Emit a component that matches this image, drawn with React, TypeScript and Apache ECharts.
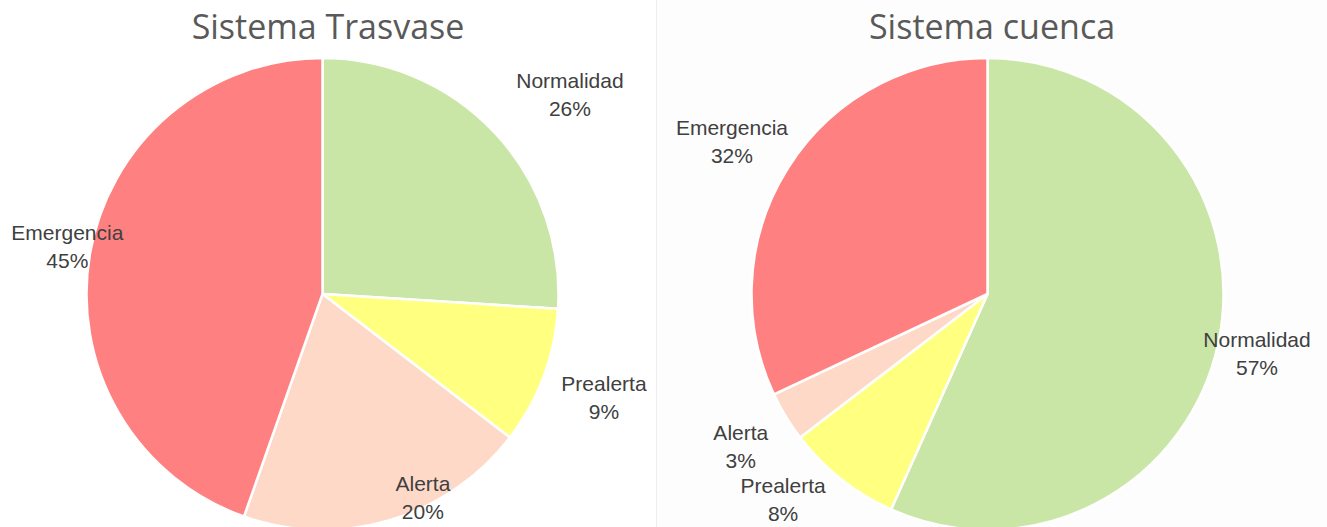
import React, { useEffect, useRef } from "react";
import * as echarts from "echarts";

const categories = ["Normalidad", "Prealerta", "Alerta", "Emergencia"];
const trasvaseValues = [26.0, 9.4, 20.0, 44.6];
const cuencaValues = [56.7, 7.9, 3.4, 32.0];
const titles = ["Sistema Trasvase", "Sistema cuenca"];

const colors = ["#C9E6A7", "#FFFF80", "#FFD9C8", "#FF8080"];

// label placement style: radial factor and angular shift (degrees) per slice
const labelFactor = [
  [1.348, 1.27, 0.96, 1.1],
  [1.17, 1.227, 1.23, 1.26],
];
const labelShift = [
  [4.26, -0.42, -9.74, 0.88],
  [0.49, 6.56, -0.48, -1.65],
];

const centers = [
  [322.5, 294],
  [987.5, 294],
];
const titleX = [323, 987];
const RADIUS = 236;

export default function App() {
  const ref = useRef<HTMLDivElement>(null);
  useEffect(() => {
    if (!ref.current) return;
    const chart = echarts.init(ref.current, null, { renderer: "svg" });
    const seriesValues = [trasvaseValues, cuencaValues];

    const labelLayout = (params: any) => {
      const s = params.seriesIndex;
      const i = params.dataIndex;
      const vals = seriesValues[s];
      const total = vals.reduce((a, b) => a + b, 0);
      let cum = 0;
      for (let k = 0; k < i; k++) cum += vals[k];
      const mid = ((cum + vals[i] / 2) / total) * 360 + labelShift[s][i];
      const rad = (mid * Math.PI) / 180;
      const d = RADIUS * labelFactor[s][i];
      return {
        x: centers[s][0] + d * Math.sin(rad),
        y: centers[s][1] - d * Math.cos(rad),
        align: "center",
        verticalAlign: "middle",
      };
    };

    const makeSeries = (s: number) => ({
      type: "pie",
      center: centers[s],
      radius: RADIUS,
      startAngle: 90,
      clockwise: true,
      silent: true,
      itemStyle: { borderColor: "#ffffff", borderWidth: 2.5 },
      label: {
        show: true,
        position: "inside",
        formatter: (p: any) => `${p.name}\n${Math.round(p.percent)}%`,
        fontFamily: "'Liberation Sans', Arial, sans-serif",
        fontSize: 21,
        lineHeight: 28,
        color: "#404040",
        align: "center",
      },
      labelLine: { show: false },
      labelLayout,
      data: categories.map((name, i) => ({
        name,
        value: seriesValues[s][i],
        itemStyle: { color: colors[i] },
      })),
    });

    chart.setOption({
      animation: false,
      backgroundColor: "#ffffff",
      title: titles.map((t, s) => ({
        text: t,
        left: titleX[s],
        top: 4,
        textAlign: "center",
        textStyle: {
          fontFamily: "'Open Sans', 'Noto Sans', sans-serif",
          fontWeight: "normal",
          fontSize: 34,
          color: "#595959",
        },
      })),
      graphic: [
        {
          type: "rect",
          shape: { x: 657, y: 0, width: 670, height: 527 },
          style: { fill: "#FDFDFD" },
          z: -10,
          silent: true,
        },
        {
          type: "line",
          shape: { x1: 656.5, y1: 0, x2: 656.5, y2: 527 },
          style: { stroke: "#EEEEEE", lineWidth: 1 },
          z: -9,
          silent: true,
        },
      ],
      series: [makeSeries(0), makeSeries(1)],
    });
    return () => chart.dispose();
  }, []);
  return (
    <div
      ref={ref}
      style={{ position: "fixed", left: 0, top: 0, width: 1327, height: 527 }}
    />
  );
}
